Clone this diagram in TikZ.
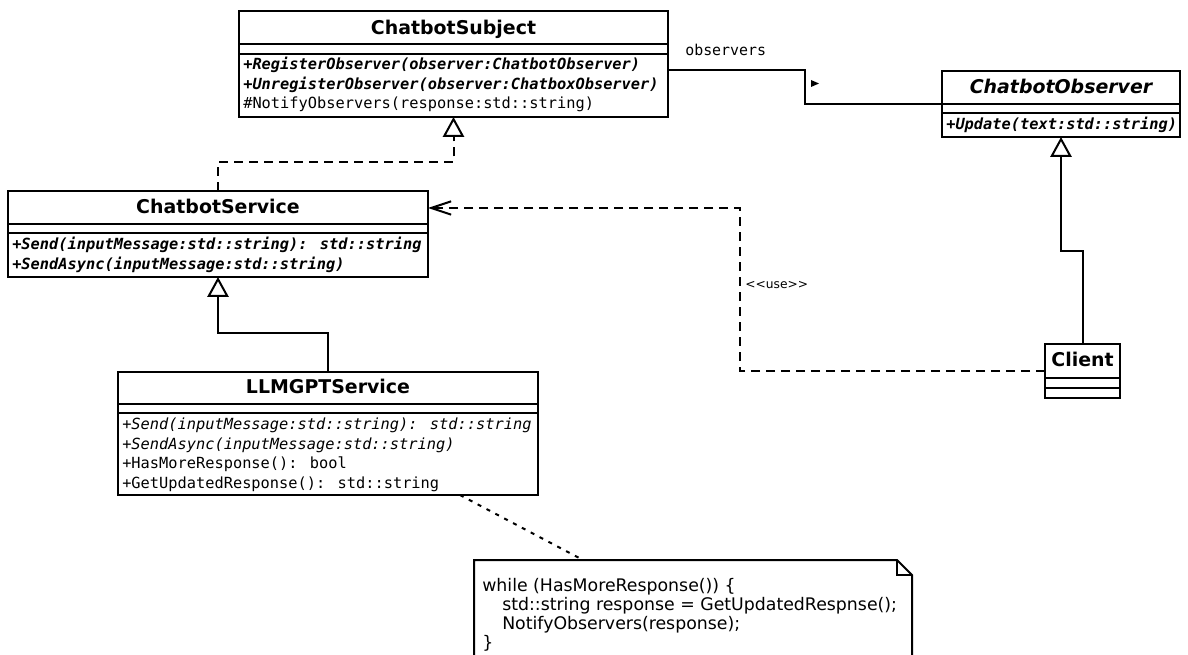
\documentclass[tikz,border=0pt]{standalone}
\usepackage{fontspec}
\setmainfont{DejaVu Sans}[BoldFont={DejaVu Sans Bold}, ItalicFont={DejaVu Sans Oblique}, BoldItalicFont={DejaVu Sans Bold Oblique}]
\newfontfamily\umlmono{DejaVu Sans Mono}[BoldFont={DejaVu Sans Mono Bold}, ItalicFont={DejaVu Sans Mono Oblique}, BoldItalicFont={DejaVu Sans Mono Bold Oblique}]
\usetikzlibrary{arrows.meta}

\tikzset{
  umlline/.style={line width=1.5pt},
  umlbox/.style={draw, line width=1.5pt, fill=white, rectangle, anchor=north west, inner sep=0pt, outer sep=0pt},
  classtitle/.style={anchor=base, inner sep=0pt, font=\bfseries\fontsize{14.2}{17}\selectfont},
  abstracttitle/.style={classtitle, font=\bfseries\itshape\fontsize{14.2}{17}\selectfont},
  op/.style={anchor=base west, inner sep=0pt, font=\umlmono\fontsize{11.5}{14}\selectfont},
  italicop/.style={op, font=\umlmono\itshape\fontsize{11.5}{14}\selectfont},
  abstractop/.style={op, font=\umlmono\bfseries\itshape\fontsize{11.5}{14}\selectfont},
  rolelabel/.style={anchor=base west, inner sep=0pt, font=\umlmono\fontsize{11.2}{14}\selectfont},
  stereolabel/.style={anchor=base west, inner sep=0pt, font=\fontsize{9.2}{11}\selectfont},
  notetext/.style={anchor=base west, inner sep=0pt, font=\fontsize{13}{16}\selectfont},
  generalization/.style={umlline, -{Triangle[open, length=15pt, width=16pt]}},
  realization/.style={umlline, dash pattern=on 6.75pt off 4.5pt, -{Triangle[open, length=15pt, width=16pt]}},
  dependency/.style={umlline, dash pattern=on 6.75pt off 4.5pt, -{Straight Barb[length=15pt, width=10pt]}},
  notelink/.style={umlline, dash pattern=on 3pt off 4.5pt},
}

% class box: name, left, top, right, title bottom, attribute bottom, bottom
\newcommand\umlclass[7]{%
  \node[umlbox, minimum width={(#4-#2)*0.75pt}, minimum height={(#7-#3)*0.75pt}] (#1) at (#2,#3) {};
  \draw[umlline] (#2,#5) -- (#4,#5);
  \draw[umlline] (#2,#6) -- (#4,#6);
}

\begin{document}
\begin{tikzpicture}[x=0.75pt, y=-0.75pt]
\useasboundingbox (0,0) rectangle (1188,655);
\fill[white] (0,0) rectangle (1188,655);
\clip (0,0) rectangle (1188,655);

% ---- classes ----
\umlclass{subject}{239}{11}{668}{44}{54}{117}
\node[classtitle] (subjecttitle) at (453.5,35) {ChatbotSubject};
\node[abstractop] (subjectop1) at (243,70) {+RegisterObserver(observer:ChatbotObserver)};
\node[abstractop] (subjectop2) at (243,89.5) {+UnregisterObserver(observer:ChatboxObserver)};
\node[op] (subjectop3) at (243,109) {\#NotifyObservers(response:std::string)};

\umlclass{observer}{942}{71}{1180}{104}{113}{137}
\node[abstracttitle] (observertitle) at (1061,94) {ChatbotObserver};
\node[abstractop] (observerop1) at (946,130) {+Update(text:std::string)};

\umlclass{service}{8}{191}{428}{224}{233}{277}
\node[classtitle] (servicetitle) at (218,214) {ChatbotService};
\node[abstractop] (serviceop1) at (12,250) {+Send(inputMessage:std::string): std::string};
\node[abstractop] (serviceop2) at (12,269.5) {+SendAsync(inputMessage:std::string)};

\umlclass{llm}{118}{372}{538}{404}{413}{495}
\node[classtitle] (llmtitle) at (328,394) {LLMGPTService};
\node[italicop] (llmop1) at (122,430) {+Send(inputMessage:std::string): std::string};
\node[italicop] (llmop2) at (122,449.5) {+SendAsync(inputMessage:std::string)};
\node[op] (llmop3) at (122,469) {+HasMoreResponse(): bool};
\node[op] (llmop4) at (122,488.5) {+GetUpdatedResponse(): std::string};

\umlclass{client}{1045}{344}{1120}{378}{388}{398}
\node[classtitle] (clienttitle) at (1082.5,367) {Client};

% ---- note ----
\node[anchor=north west, inner sep=0pt, outer sep=0pt, minimum width={438*0.75pt}, minimum height={100*0.75pt}] (note) at (474,560) {};
\draw[umlline] (note.south west) -- (note.north west) -- ([xshift=-11.25pt]note.north east)
  -- ([yshift=-11.25pt]note.north east) -- (note.south east);
\draw[line width=0.8pt] ([xshift=-11.25pt]note.north east) |- ([yshift=-11.25pt]note.north east);
\node[notetext] (noteline1) at (482,591) {while (HasMoreResponse()) \{};
\node[notetext] (noteline2) at (502,610) {std::string response = GetUpdatedRespnse();};
\node[notetext] (noteline3) at (502,629) {NotifyObservers(response);};
\node[notetext] (noteline4) at (482,648) {\}};

% ---- connectors ----
\coordinate (realbend) at (218,162);
\draw[realization] (service.north) -- (realbend) -| (subject.south);

\coordinate (genbend) at (328,333);
\draw[generalization] (llm.north) -- (genbend) -| (service.south);

\coordinate (clientbend) at (1082.5,251);
\draw[generalization] (client.north) -- (clientbend) -| (observer.south);

\coordinate (usebend) at (740,208);
\draw[dependency] (client.west) -| (usebend) -- (service.east |- usebend);
\node[stereolabel] (uselabel) at (745,289) {<\kern0pt<use>\kern0pt>};

\coordinate (assocbend) at (805,70);
\draw[umlline] (subject.east |- assocbend) -- (assocbend) |- (observer.west);
\fill (811,80) -- (819,83.5) -- (811,87) -- cycle;
\node[rolelabel] (rolename) at (685,56) {observers};

\draw[notelink] ([xshift=99pt]llm.south) -- ([xshift=81.75pt]note.north west);
\end{tikzpicture}
\end{document}
